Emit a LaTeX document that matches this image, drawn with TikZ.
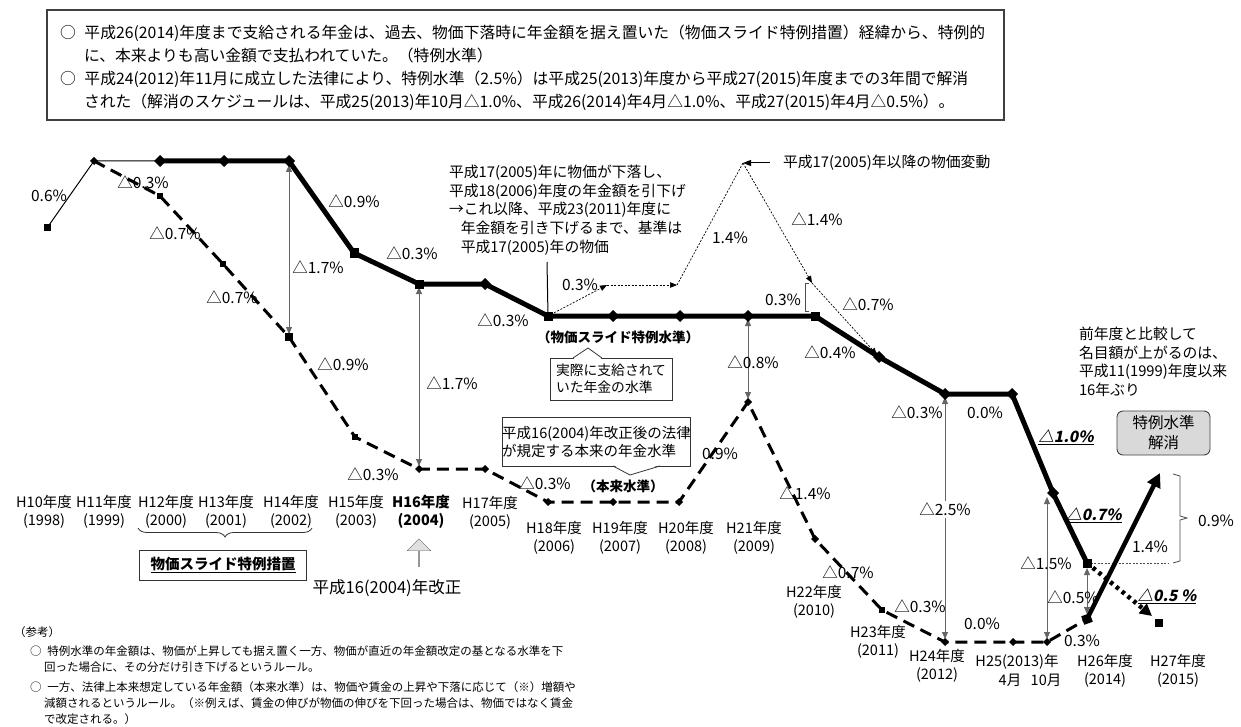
\documentclass[tikz,border=0pt]{standalone}
\usepackage{fontspec}
\setmainfont{Noto Sans CJK JP}
\newfontfamily\slfont[FakeSlant=0.2]{Noto Sans CJK JP}
\usetikzlibrary{arrows.meta,shapes.geometric,shapes.arrows,decorations.pathreplacing}
\begin{document}
\begin{tikzpicture}[x=1pt,y=-1pt,
  every node/.style={inner sep=0pt,outer sep=0pt},
  lbl/.style={font=\fontsize{15.5}{18}\selectfont},
  blbl/.style={font=\fontsize{13.5}{17}\selectfont\bfseries},
  ulbl/.style={font=\fontsize{15.5}{18}\selectfont\slfont\bfseries},
  yr/.style={font=\fontsize{14.5}{18.5}\selectfont, align=center},
  note/.style={font=\fontsize{11.5}{14}\selectfont, anchor=west},
  topt/.style={font=\fontsize{15.8}{18}\selectfont, anchor=west},
  dmk/.style={diamond, fill=black, minimum size=12pt},
  smk/.style={rectangle, fill=black, minimum size=9pt},
  dsm/.style={diamond, fill=black, minimum size=8pt},
  ssm/.style={rectangle, fill=black, minimum size=6pt},
  spl/.style={line width=5pt, line join=round},
  dsl/.style={line width=3pt, dash pattern=on 12pt off 7pt},
  thinl/.style={line width=1pt},
  dotl/.style={line width=0.7pt, dash pattern=on 2pt off 1.5pt, -{Triangle[length=7pt,width=5.5pt]}},
  varr/.style={draw=black!60, line width=0.8pt, {Triangle[length=7pt,width=6pt]}-{Triangle[length=7pt,width=6pt]}},
  bracket/.style={draw=black!70, line width=0.8pt}
]
\fill[white] (0,0) rectangle (1241,727);
\useasboundingbox (0,0) rectangle (1241,727);

% ---------- top box ----------
\node[draw=black!75, line width=1.2pt, minimum width=957pt, minimum height=110pt, anchor=north west] (topbox) at (47,10) {};
\node[topt] (t1) at (60,33) {○\hspace{0.55em}平成26(2014)年度まで支給される年金は、過去、物価下落時に年金額を据え置いた（物価スライド特例措置）経緯から、特例的};
\node[topt] (t2) at (84,55) {に、本来よりも高い金額で支払われていた。（特例水準）};
\node[topt] (t3) at (60,79) {○\hspace{0.55em}平成24(2012)年11月に成立した法律により、特例水準（2.5\%）は平成25(2013)年度から平成27(2015)年度までの3年間で解消};
\node[topt] (t4) at (84,102) {された（解消のスケジュールは、平成25(2013)年10月△1.0\%、平成26(2014)年4月△1.0\%、平成27(2015)年4月△0.5\%）。};

% ---------- coordinates ----------
\coordinate (s10) at (47,228);
\coordinate (s11) at (94,161);
\coordinate (s12) at (160,161);
\coordinate (s13) at (224,161);
\coordinate (s14) at (289,161);
\coordinate (s15) at (354,253);
\coordinate (s16) at (419,284);
\coordinate (s17) at (485,284);
\coordinate (s18) at (548,316);
\coordinate (s19) at (613,316);
\coordinate (s20) at (680,316);
\coordinate (s21) at (748,316);
\coordinate (s22) at (815,316);
\coordinate (s23) at (879,357);
\coordinate (s24) at (945,394);
\coordinate (s25a) at (1012,394);
\coordinate (s25b) at (1053,493);
\coordinate (s26) at (1087,563);

\coordinate (d12) at (160,196);
\coordinate (d13) at (223,264);
\coordinate (d14) at (289,337);
\coordinate (d15) at (355,437);
\coordinate (d16) at (419,469);
\coordinate (d17) at (485,469);
\coordinate (d18) at (548,502);
\coordinate (d19) at (613,502);
\coordinate (d20) at (679,502);
\coordinate (d21) at (748,402);
\coordinate (d22) at (815,539);
\coordinate (d23) at (882,610);
\coordinate (d24) at (945,642);
\coordinate (d25a) at (1013,642);
\coordinate (d25b) at (1047,642);
\coordinate (d26) at (1087,619);

\coordinate (p1) at (607,285);
\coordinate (p2) at (677,285);
\coordinate (pk) at (743,163);
\coordinate (p3) at (812,283);
\coordinate (c17) at (547,262);
\coordinate (a15t) at (1047,497);
\coordinate (up) at (1160,473);
\coordinate (e27) at (1152,616);
\coordinate (br0) at (1168,563);

% ---------- lines ----------
\draw[thinl] (s10) -- (s11) -- (s12);
\draw[spl] (s12) -- (s13) -- (s14) -- (s15) -- (s16) -- (s17) -- (s18) -- (s19) -- (s20) -- (s21) -- (s22) -- (s23) -- (s24) -- (s25a) -- (s25b) -- (s26);
\draw[dsl] (s11) -- (d12) -- (d13) -- (d14) -- (d15) -- (d16) -- (d17) -- (d18) -- (d19) -- (d20) -- (d21) -- (d22) -- (d23) -- (d24) -- (d25a) -- (d25b) -- (d26);

% price movement (dotted)
\draw[dotl] (s18) -- (p1);
\draw[dotl] (p1) -- (p2);
\draw[line width=0.7pt, dash pattern=on 2pt off 1.5pt] (p2) -- (pk);
\draw[dotl] (pk) -- (p3);
\draw[dotl, shorten >=3pt] (p3) -- (s23);
\draw[thinl] (c17) -- (s18);

% vertical double arrows
\draw[varr, shorten <=4pt, shorten >=3pt] (s14) -- (d14);
\draw[varr, shorten <=3pt, shorten >=3pt] (s16) -- (d16);
\draw[varr, shorten <=3pt, shorten >=3pt] (s21) -- (d21);
\draw[varr, shorten <=3pt, shorten >=3pt] (s24) -- (d24);
\draw[varr, shorten >=3pt] (a15t) -- (d25b);
\draw[varr, shorten <=5pt, shorten >=5pt] (s26) -- (d26);

% final moves
\draw[black!70, line width=0.6pt, dash pattern=on 2pt off 1.5pt] (s26) -- (br0);
\draw[line width=4.5pt, -{Triangle[length=14pt,width=14pt]}] (d26) -- (up);
\draw[line width=4.5pt, dash pattern=on 3.5pt off 4pt, -{Triangle[length=12pt,width=12pt]}] (s26) -- (e27);

% brackets
\draw[bracket] (1173,474) -- (1180,476) -- (1180,516) -- (1187,518) -- (1180,520) -- (1180,561) -- (1173,563);
\draw[bracket] (809,283) -- (805,283) -- (805,311) -- (809,311);

% ---------- markers ----------
\node[smk, minimum size=7pt] (m10) at (s10) {};
\node[dsm] (m11) at (s11) {};
\foreach \n in {12,13,14,17,19,20,21,23,24,25a,25b} { \node[dmk] (m\n) at (s\n) {}; }
\foreach \n in {15,16,18,22,26} { \node[smk] (m\n) at (s\n) {}; }
\foreach \n in {12,13,15,23} { \node[ssm] (n\n) at (d\n) {}; }
\foreach \n in {16,17,18,19,20,21,22,24,25a,25b} { \node[dsm] (n\n) at (d\n) {}; }
\node[ssm, minimum size=8pt] (n14) at (d14) {};
\node[smk, rotate=20] (n26) at (d26) {};
\node[smk, minimum size=8pt] (m27) at (1159,623) {};

% ---------- labels on solid line ----------
\node[lbl] (l01) at (49,196) {0.6\%};
\node[lbl] (l03) at (354,201) {△0.9\%};
\node[lbl] (l04) at (318,267) {△1.7\%};
\node[lbl] (l05) at (412,253) {△0.3\%};
\node[lbl] (l06) at (503,320) {△0.3\%};
\node[blbl] (l07) at (618,337) {（物価スライド特例水準）};
\node[lbl] (l08) at (580,285) {0.3\%};
\node[lbl] (l09) at (730,238) {1.4\%};
\node[lbl] (l10) at (817,219) {△1.4\%};
\node[lbl] (l11) at (783,300) {0.3\%};
\node[lbl] (l12) at (868,304) {△0.7\%};
\node[lbl] (l13) at (830,352) {△0.4\%};
\node[lbl] (l14) at (917,412) {△0.3\%};
\node[lbl] (l15) at (985,413) {0.0\%};
\node[ulbl] (l16) at (1066,437) {\underline{△1.0\%}};
\node[ulbl] (l17) at (1094,515) {\underline{△0.7\%}};
\node[ulbl] (l18) at (1167,596) {\underline{△0.5 \%}};
\node[lbl] (l19) at (1150,547) {1.4\%};
\node[lbl] (l20) at (1216,521) {0.9\%};
\node[lbl, fill=white, inner sep=2pt] (l21) at (945,509) {△2.5\%};
\node[lbl] (l22) at (1046,563) {△1.5\%};
\node[lbl] (l23) at (1073,597) {△0.5\%};
\node[lbl] (l24) at (753,362) {△0.8\%};
\node[lbl] (l25) at (452,383) {△1.7\%};

% ---------- labels on dashed line ----------
\node[lbl] (k01) at (143,182) {△0.3\%};
\node[lbl] (k02) at (175,233) {△0.7\%};
\node[lbl] (k03) at (232,297) {△0.7\%};
\node[lbl] (k04) at (343,364) {△0.9\%};
\node[lbl] (k05) at (373,474) {△0.3\%};
\node[lbl] (k06) at (545,483) {△0.3\%};
\node[blbl] (k07) at (623,486) {（本来水準）};
\node[lbl] (k08) at (720,454) {0.9\%};
\node[lbl] (k09) at (805,493) {△1.4\%};
\node[lbl] (k10) at (848,572) {△0.7\%};
\node[lbl] (k11) at (920,606) {△0.3\%};
\node[lbl] (k12) at (982,624) {0.0\%};
\node[lbl] (k13) at (1082,641) {0.3\%};

% ---------- callouts ----------
\node[font=\fontsize{14.8}{18.7}\selectfont, align=left, anchor=north west] (c05) at (449,165) {平成17(2005)年に物価が下落し、\\平成18(2006)年度の年金額を引下げ\\→これ以降、平成23(2011)年度に\\\hspace*{0.8em}年金額を引き下げるまで、基準は\\\hspace*{0.8em}平成17(2005)年の物価};
\node[font=\fontsize{14.8}{17}\selectfont, anchor=west] (lb05) at (783,163) {平成17(2005)年以降の物価変動};
\draw[thinl, -{Triangle[length=8pt,width=6pt]}] ([xshift=-13pt]lb05.west) -- (pk);

\node[draw=black!80, line width=0.8pt, minimum width=122pt, minimum height=42pt, align=left, font=\fontsize{13.8}{17.5}\selectfont] (cb1) at (611,379) {実際に支給されて\\いた年金の水準};
\fill[white] (573.5,358.9) -- (588,348) -- (601.5,358.9) -- cycle;
\draw[black!80, line width=0.8pt] (573,358) -- (588,348) -- (602,358);

\node[draw=black!80, line width=0.8pt, minimum width=187pt, minimum height=49pt, align=left, font=\fontsize{14.5}{18}\selectfont] (cb2) at (596.5,441.5) {平成16(2004)年改正後の法律\\が規定する本来の年金水準};
\fill[white] (613.5,465.1) -- (630,475) -- (659.5,465.1) -- cycle;
\draw[black!80, line width=0.8pt] (613,466) -- (630,475) -- (660,466);

\node[font=\fontsize{14.8}{18.7}\selectfont, align=left, anchor=north west] (c16) at (1079,327) {前年度と比較して\\名目額が上がるのは、\\平成11(1999)年度以来\\16年ぶり};

\node[draw=black!75, line width=0.9pt, fill=black!15, rounded corners=6pt, minimum width=93pt, minimum height=44pt, align=center, font=\fontsize{15.5}{20}\selectfont] (kaisho) at (1163.5,433) {特例水準\\解消};

% ---------- year axis labels ----------
\node[yr] (y10) at (44,512) {H10年度\\(1998)};
\node[yr] (y11) at (104,512) {H11年度\\(1999)};
\node[yr] (y12) at (166,512) {H12年度\\(2000)};
\node[yr] (y13) at (226,512) {H13年度\\(2001)};
\node[yr] (y14) at (291,512) {H14年度\\(2002)};
\node[yr] (y15) at (356,512) {H15年度\\(2003)};
\node[yr, font=\fontsize{14.5}{18.5}\selectfont\bfseries] (y16) at (421,512) {H16年度\\(2004)};
\node[yr] (y17) at (490,513) {H17年度\\(2005)};
\node[yr] (y18) at (554,538) {H18年度\\(2006)};
\node[yr] (y19) at (620,538) {H19年度\\(2007)};
\node[yr] (y20) at (686,538) {H20年度\\(2008)};
\node[yr] (y21) at (754,538) {H21年度\\(2009)};
\node[yr] (y22) at (814,602) {H22年度\\(2010)};
\node[yr] (y23) at (878,642) {H23年度\\(2011)};
\node[yr] (y24) at (937,666) {H24年度\\(2012)};
\node[yr] (y25) at (1017,662) {H25(2013)年};
\node[yr] (y25a) at (1010,680) {4月};
\node[yr] (y25b) at (1046,680) {10月};
\node[yr] (y26) at (1105,671) {H26年度\\(2014)};
\node[yr] (y27) at (1178,671) {H27年度\\(2015)};

% brace and measure box
\draw[black!80, line width=0.8pt, decorate, decoration={brace, amplitude=9pt}] (312,528) -- (138,528);
\node[draw=black!80, line width=0.8pt, minimum width=167pt, minimum height=30pt, font=\fontsize{14.5}{17}\selectfont\bfseries] (sochi) at (223,565) {\underline{物価スライド特例措置}};

% 2004 reform arrow
\node[single arrow, shape border rotate=90, draw=black!60, fill=black!12, minimum height=28pt, minimum width=24pt, single arrow head extend=5.5pt] (kaisei) at (419,553) {};
\node[font=\fontsize{16.5}{18}\selectfont] (kaiseil) at (387,588) {平成16(2004)年改正};

% ---------- bottom notes ----------
\node[note] (n0) at (14,632) {（参考）};
\node[note] (nn1) at (30,651) {○\hspace{0.5em}特例水準の年金額は、物価が上昇しても据え置く一方、物価が直近の年金額改定の基となる水準を下};
\node[note] (nn2) at (44,667) {回った場合に、その分だけ引き下げるというルール。};
\node[note] (nn3) at (30,687) {○\hspace{0.5em}一方、法律上本来想定している年金額（本来水準）は、物価や賃金の上昇や下落に応じて（※）増額や};
\node[note] (nn4) at (44,703) {減額されるというルール。（※例えば、賃金の伸びが物価の伸びを下回った場合は、物価ではなく賃金};
\node[note] (nn5) at (44,719) {で改定される。）};
\end{tikzpicture}
\end{document}
